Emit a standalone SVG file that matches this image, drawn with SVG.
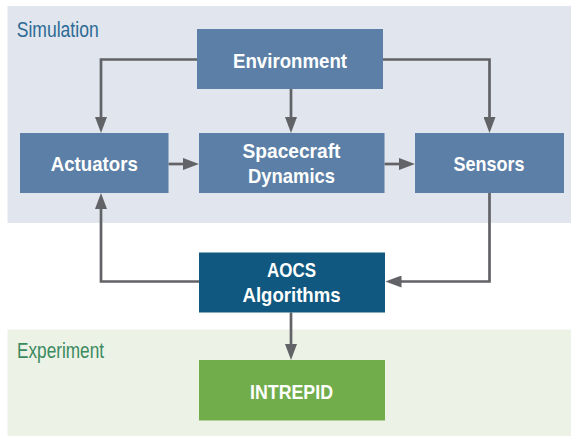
<svg xmlns="http://www.w3.org/2000/svg" width="571" height="436" viewBox="0 0 571 436">
<style>
.box{fill:#5b7fa6}
.lbl{font-family:"Liberation Sans",Arial,sans-serif;font-weight:bold;font-size:21px;fill:#ffffff;text-anchor:middle}
.panel-lbl{font-family:"Liberation Sans",Arial,sans-serif;font-size:22px}
.conn{fill:none;stroke:#626366;stroke-width:2.7;marker-end:url(#ah)}
</style>
<defs>
<marker id="ah" markerUnits="userSpaceOnUse" markerWidth="16" markerHeight="12" refX="8" refY="6" orient="auto">
<path d="M0,0 L16,6 L0,12 Z" fill="#626366"/>
</marker>
</defs>
<rect x="0" y="0" width="571" height="436" fill="#ffffff"/>
<g id="simulation-panel">
<rect x="7.5" y="6" width="563.5" height="217" fill="#e0e5ee"/>
<text class="panel-lbl" x="16.7" y="36.5" fill="#2e6b94" textLength="82" lengthAdjust="spacingAndGlyphs">Simulation</text>
</g>
<g id="experiment-panel">
<rect x="7.5" y="329.5" width="563.5" height="106.5" fill="#edf2e7"/>
<text class="panel-lbl" x="17" y="358" fill="#3b8a5f" textLength="87" lengthAdjust="spacingAndGlyphs">Experiment</text>
</g>
<g id="connectors">
<path class="conn" d="M197,59.5 H101 V125"/>
<path class="conn" d="M291,89 V125"/>
<path class="conn" d="M383,59.5 H489.5 V125"/>
<path class="conn" d="M168.5,164 H191"/>
<path class="conn" d="M384.5,164 H407"/>
<path class="conn" d="M489.5,193 V281.5 H393.5"/>
<path class="conn" d="M199,281.5 H101 V201"/>
<path class="conn" d="M291,312.5 V352"/>
</g>
<g id="environment">
<rect class="box" x="197" y="29" width="186" height="60"/>
<text class="lbl" x="290" y="68" textLength="114" lengthAdjust="spacingAndGlyphs">Environment</text>
</g>
<g id="actuators">
<rect class="box" x="20" y="133" width="148.5" height="60"/>
<text class="lbl" x="94.3" y="170.5" textLength="87" lengthAdjust="spacingAndGlyphs">Actuators</text>
</g>
<g id="spacecraft-dynamics">
<rect class="box" x="199" y="133" width="185.5" height="60"/>
<text class="lbl" x="291.5" y="158" textLength="98" lengthAdjust="spacingAndGlyphs">Spacecraft</text>
<text class="lbl" x="291.5" y="183" textLength="87" lengthAdjust="spacingAndGlyphs">Dynamics</text>
</g>
<g id="sensors">
<rect class="box" x="415" y="133" width="149" height="60"/>
<text class="lbl" x="489" y="170.5" textLength="71" lengthAdjust="spacingAndGlyphs">Sensors</text>
</g>
<g id="aocs-algorithms">
<rect x="199" y="252.5" width="186" height="60" fill="#10587f"/>
<text class="lbl" x="291.5" y="277" textLength="49" lengthAdjust="spacingAndGlyphs">AOCS</text>
<text class="lbl" x="291.5" y="301.5" textLength="98" lengthAdjust="spacingAndGlyphs">Algorithms</text>
</g>
<g id="intrepid">
<rect x="199" y="360" width="186" height="60.5" fill="#72ad4b"/>
<text class="lbl" x="291.5" y="399" textLength="83" lengthAdjust="spacingAndGlyphs">INTREPID</text>
</g>
</svg>
